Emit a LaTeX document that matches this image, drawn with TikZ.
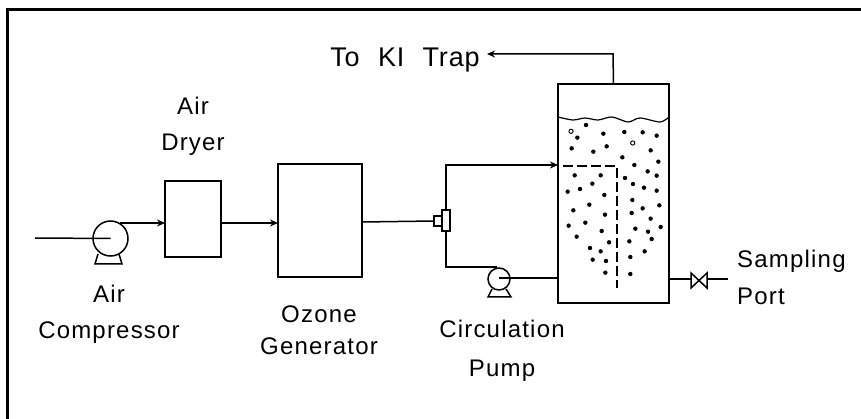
\documentclass[tikz,border=0pt]{standalone}
\usepackage{fontspec}
\setmainfont{Liberation Sans}
\usetikzlibrary{arrows.meta}
\tikzset{
  unit/.style={draw, line width=1.5pt, inner sep=0pt, outer sep=0pt},
  pumpbody/.style={unit, circle},
  flow/.style={line width=1.5pt},
  flowarrow/.style={flow, -{Stealth[length=8pt,width=7pt]}},
  lbl/.style={font=\fontsize{24}{#1}\selectfont\addfontfeature{LetterSpace=5}, align=center, inner sep=0pt},
  lbl/.default=36
}
\begin{document}
\begin{tikzpicture}[x=1pt, y=-1pt]
\useasboundingbox (0,0) rectangle (861,419);

%% -- Sheet edge (top and left only) --
\coordinate (sheetbl) at (7.5,419);
\coordinate (sheettl) at (7.5,9.5);
\coordinate (sheettr) at (861,9.5);
\draw[line width=3pt] (sheetbl) -- (sheettl) -- (sheettr);

%% -- Units --
\node[unit, minimum width=56pt, minimum height=76pt] (dryer) at (193,219) {};
\node[unit, minimum width=84pt, minimum height=113pt] (ozonegen) at (320,220.5) {};
\node[unit, minimum width=111pt, minimum height=219pt] (tank) at (613.5,193.5) {};
\node[pumpbody, minimum size=35pt] (comp) at (110.5,238.5) {};
\node[pumpbody, minimum size=22pt] (circpump) at (499,279) {};

%% pump feet
\draw[flow] (98,254) -- (95,264) -- (122,264) -- (119,254);
\draw[flow] (492,289) -- (488,297) -- (511,297) -- (506,289);

%% -- Air line --
\coordinate (airin) at (35,238);
\coordinate (compout) at (120,223);
\coordinate (dryerin) at (165,223);
\coordinate (dryerout) at (221,223);
\coordinate (genin) at (278,223);
\coordinate (genout) at (362,222);
\draw[flow] (airin) -- (comp.center);
\draw[flowarrow] (compout) -- (dryerin);
\draw[flowarrow] (dryerout) -- (genin);

%% -- Tee --
\node[unit, fill=white, minimum width=8pt, minimum height=21pt] (teebar) at (446,220.5) {};
\node[unit, fill=white, minimum width=8pt, minimum height=10pt] (teestub) at (438,221) {};
\draw[flow] (genout) -- (teestub.west);

%% -- Loop --
\coordinate (teetop) at (446,165);
\coordinate (tankin) at (558,165);
\coordinate (teelow) at (446,267);
\coordinate (pumpin) at (497,267);
\coordinate (pumpout) at (499,278);
\coordinate (tankret) at (558,278);
\draw[flowarrow] (teebar.north) -- (teetop) -- (tankin);
\draw[flow] (teebar.south) -- (teelow) -- (pumpin);
\draw[flow] (pumpout) -- (tankret);

%% dip tube
\coordinate (dipin) at (563,166);
\coordinate (dipbend) at (617,166);
\coordinate (dipend) at (617,288);
\draw[flow, dash pattern=on 10pt off 4pt] (dipin) -- (dipbend) -- (dipend);

%% -- Vent --
\coordinate (ventbend) at (613,54);
\coordinate (ventend) at (487,54);
\draw[flowarrow] (tank.north) -- (ventbend) -- (ventend);

%% -- Sampling line --
\coordinate (samplea) at (669,279);
\coordinate (valvel) at (691,279);
\coordinate (valver) at (707,279);
\coordinate (sampleb) at (728,279);
\draw[flow] (samplea) -- (valvel);
\draw[flow] (valver) -- (sampleb);
\draw[flow] (691,273) -- (707,288) -- (707,273) -- (691,288) -- cycle;

%% -- Liquid --
\draw[flow, line width=1.2pt] plot[smooth] coordinates {(558,117) (573,120) (585,118) (598,120) (612,117) (628,122) (640,118) (660,122) (669,117)};
\foreach \a/\b in {138/255,112/293,190/281,253/276,308/277,350/287,95/325,160/335,200/319,332/331,
  247/352,355/365,283/375,323/394,350/407,104/406,182/406,157/431,255/414,279/432,312/443,350/452,
  120/447,83/455,193/465,277/480,358/496,148/494,100/511,308/505,275/519,195/524,332/536,136/548,
  86/557,185/573,286/566,324/575,362/561,110/590,335/597,207/607,268/604,150/624,182/634,314/634,
  158/659,198/663,271/651,196/698,271/702}{
  \fill (540+\a/3, 40+\b/3) circle (2.2pt);
}
\draw[line width=0.9pt] (571,131.3) circle (2.1pt);
\draw[line width=0.9pt] (632.7,143) circle (2.1pt);

%% -- Labels --
\node[inner sep=0pt, font=\fontsize{27}{27}\selectfont\addfontfeature{LetterSpace=3}] (traplbl) at (405,59.8) {To\hspace{10pt} KI\hspace{10pt} Trap};
\node[lbl] (comlbl) at (109,314.7) {Air\\Compressor};
\node[lbl] (drylbl) at (193,126.7) {Air\\Dryer};
\node[lbl=32] (genlbl) at (319,330) {Ozone\\Generator};
\node[lbl=39] (pumplbl) at (502,351) {Circulation\\Pump};
\node[lbl=37, align=left, anchor=west] (samplbl) at (737,277.7) {Sampling\\Port};

\end{tikzpicture}
\end{document}
